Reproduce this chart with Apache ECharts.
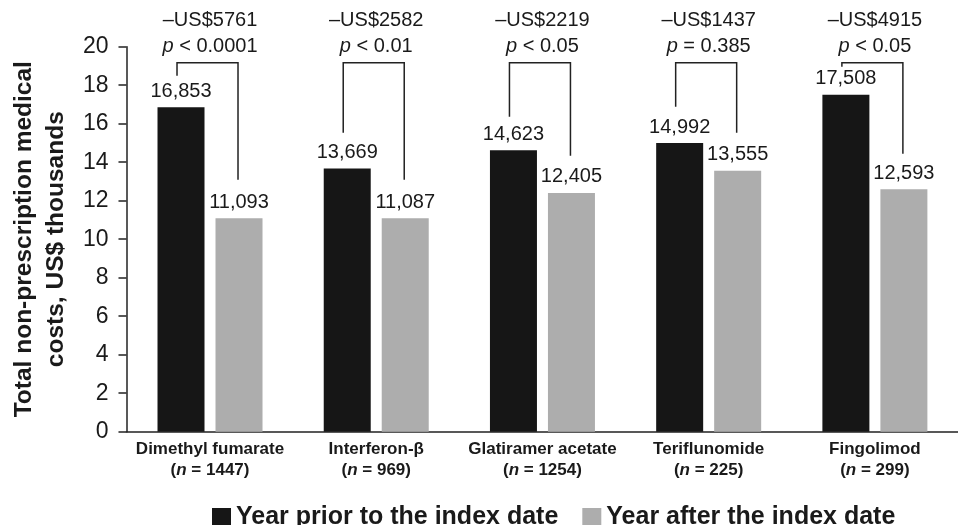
<!DOCTYPE html>
<html>
<head>
<meta charset="utf-8">
<script src="https://cdn.jsdelivr.net/npm/echarts@6/dist/echarts.min.js"></script>
<style>html,body{margin:0;padding:0;background:#fff}#c{width:958px;height:525px}</style>
</head>
<body>
<div id="c"></div>
<script>
const categories = ['Dimethyl fumarate', 'Interferon-β', 'Glatiramer acetate', 'Teriflunomide', 'Fingolimod'];
const nValues = [1447, 969, 1254, 225, 299];
const yearPrior = [16.853, 13.669, 14.623, 14.992, 17.508];
const yearAfter = [11.093, 11.087, 12.405, 13.555, 12.593];
const diffLabels = ['–US$5761', '–US$2582', '–US$2219', '–US$1437', '–US$4915'];
const pLabels = ['< 0.0001', '< 0.01', '< 0.05', '= 0.385', '< 0.05'];
const bracketTop = [19.17, 19.17, 19.17, 19.17, 19.17];
const leftLegEnd = [18.49, 15.53, 16.36, 16.88, 18.96];
const rightLegEnd = [13.09, 13.09, 14.34, 15.53, 14.44];
const yTicks = [0, 20, 2];

const FONT = 'Liberation Sans, Arial, sans-serif';
const TXT = '#1a1a1a';
const chart = echarts.init(document.getElementById('c'), null, {renderer: 'canvas'});

function fmt(v) { return Math.round(v * 1000).toLocaleString('en-US'); }

const option = {
  animation: false,
  backgroundColor: '#fff',
  grid: [
    {left: 126.9, right: -25.1, top: 46.7, bottom: 93.3},
    {left: 121, right: 0, top: 46.7, bottom: 93.3}
  ],
  legend: {
    left: 207, top: 500,
    icon: 'rect', itemWidth: 19, itemHeight: 19, itemGap: 24,
    textStyle: {fontFamily: FONT, fontWeight: 'bold', fontSize: 25, color: TXT},
    data: ['Year prior to the index date', 'Year after the index date']
  },
  xAxis: [
    {
      type: 'category', gridIndex: 0, data: categories,
      axisLine: {show: false}, axisTick: {show: false},
      axisLabel: {
        margin: 7, interval: 0,
        formatter: function (v, i) { return '{b|' + v + '}\n{b|(}{bi|n}{b| = ' + nValues[i] + ')}'; },
        rich: {
          b: {fontFamily: FONT, fontWeight: 'bold', fontSize: 17, color: TXT, lineHeight: 21},
          bi: {fontFamily: FONT, fontWeight: 'bold', fontStyle: 'italic', fontSize: 17, color: TXT, lineHeight: 21}
        }
      }
    },
    {
      type: 'value', gridIndex: 1, min: 0, max: 1,
      axisLine: {show: true, lineStyle: {color: '#222', width: 1.5}},
      axisTick: {show: false}, axisLabel: {show: false}, splitLine: {show: false}
    }
  ],
  yAxis: [
    {type: 'value', gridIndex: 0, min: yTicks[0], max: yTicks[1], interval: yTicks[2], show: false},
    {
      type: 'value', gridIndex: 1, min: yTicks[0], max: yTicks[1], interval: yTicks[2],
      name: 'Total non-prescription medical\ncosts, US$ thousands',
      nameLocation: 'middle', nameGap: 54,
      nameTextStyle: {fontFamily: FONT, fontWeight: 'bold', fontSize: 24.5, color: TXT, lineHeight: 32},
      axisLine: {show: true, lineStyle: {color: '#222', width: 1.5}},
      axisTick: {show: true, length: 8, lineStyle: {color: '#222', width: 1.5}},
      axisLabel: {margin: 18, fontFamily: FONT, fontSize: 23, color: TXT},
      splitLine: {show: false}
    }
  ],
  series: [
    {
      name: 'Year prior to the index date', type: 'bar', xAxisIndex: 0, yAxisIndex: 0,
      data: yearPrior, barWidth: 47, barGap: '23.4%',
      itemStyle: {color: '#161616'},
      label: {show: true, position: 'top', distance: 6, fontFamily: FONT, fontSize: 20, color: TXT,
        formatter: function (p) { return fmt(p.value); }}
    },
    {
      name: 'Year after the index date', type: 'bar', xAxisIndex: 0, yAxisIndex: 0,
      data: yearAfter, barWidth: 47, barGap: '23.4%',
      itemStyle: {color: '#adadad'},
      label: {show: true, position: 'top', distance: 6, fontFamily: FONT, fontSize: 20, color: TXT,
        formatter: function (p) { return fmt(p.value); }}
    },
    {
      type: 'custom', xAxisIndex: 0, yAxisIndex: 0, silent: true,
      data: categories.map(function (c, i) { return [i, bracketTop[i]]; }),
      renderItem: function (params, api) {
        const i = params.dataIndex;
        const top = api.coord([i, bracketTop[i]]);
        const lEnd = api.coord([i, leftLegEnd[i]]);
        const rEnd = api.coord([i, rightLegEnd[i]]);
        const xl = top[0] - 33, xr = top[0] + 28;
        const ls = {stroke: '#222', lineWidth: 1.5, fill: null};
        return {
          type: 'group',
          children: [
            {type: 'polyline', shape: {points: [[xl, lEnd[1]], [xl, top[1]], [xr, top[1]], [xr, rEnd[1]]]}, style: ls},
            {type: 'text', style: {text: diffLabels[i], x: top[0], y: top[1] - 42, align: 'center', verticalAlign: 'middle',
              font: '20px ' + FONT, fill: TXT}},
            {type: 'text', style: {text: '{i|p} ' + pLabels[i], x: top[0], y: top[1] - 16, align: 'center', verticalAlign: 'middle',
              font: '20px ' + FONT, fill: TXT,
              rich: {i: {fontStyle: 'italic', fontSize: 20, fontFamily: FONT, fill: TXT}}}}
          ]
        };
      }
    }
  ]
};
chart.setOption(option);
</script>
</body>
</html>
